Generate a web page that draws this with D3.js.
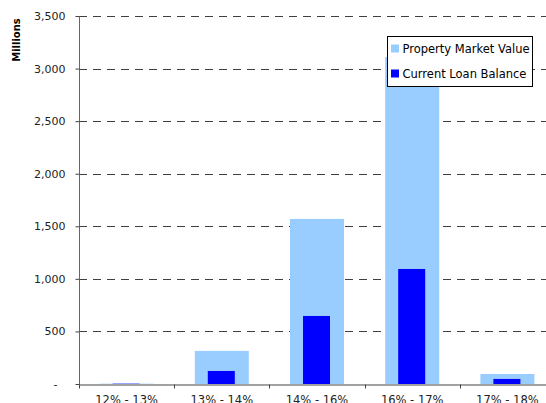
<!DOCTYPE html>
<html>
<head>
<meta charset="utf-8">
<script src="https://cdn.jsdelivr.net/npm/d3@7"></script>
<style>
  html, body { margin: 0; padding: 0; background: #fff; overflow: hidden; }
  svg { display: block; }
</style>
</head>
<body>
<script>
const categories = ["12% - 13%", "13% - 14%", "14% - 16%", "16% - 17%", "17% - 18%"];
const propertyValues = [3, 315, 1570, 3110, 95];
const loanValues = [3, 124, 647, 1094, 48];
const yTicks = [0, 500, 1000, 1500, 2000, 2500, 3000, 3500];
const seriesNames = ["Property Market Value", "Current Loan Balance"];
const colors = ["#99CCFF", "#0000FF"];

const W = 546, H = 403;
const svg = d3.select("body").append("svg").attr("width", W).attr("height", H);
const font = "DejaVu Sans, Verdana, sans-serif";

const x = d3.scaleBand().domain(categories).range([79, 555]).paddingInner(0).paddingOuter(0);
const y = d3.scaleLinear().domain([0, 3500]).range([384, 16]);

// gridlines
svg.append("g").selectAll("line").data(yTicks.filter(d => d > 0)).join("line")
  .attr("x1", 79).attr("x2", W).attr("y1", d => Math.round(y(d)) + 0.5).attr("y2", d => Math.round(y(d)) + 0.5)
  .attr("stroke", "#404040").attr("stroke-width", 1).attr("stroke-dasharray", "8,6");

// bars
const bw = x.bandwidth();
svg.append("g").selectAll("rect").data(propertyValues).join("rect")
  .attr("x", (d, i) => x(categories[i]) + bw / 2 - 27)
  .attr("width", 54)
  .attr("y", d => y(d)).attr("height", d => y(0) - y(d))
  .attr("fill", colors[0]);
svg.append("g").selectAll("rect").data(loanValues).join("rect")
  .attr("x", (d, i) => x(categories[i]) + bw / 2 - 14)
  .attr("width", 27)
  .attr("y", d => y(d)).attr("height", d => y(0) - y(d))
  .attr("fill", colors[1]);

// y axis
const yAxis = d3.axisLeft(y).tickValues(yTicks).tickSize(4).tickPadding(10)
  .tickFormat(d => d === 0 ? "-" : d3.format(",")(d));
const gy = svg.append("g").attr("transform", "translate(79.5,0)").call(yAxis);
gy.select(".domain").attr("stroke", "#666").attr("d", "M0," + y(3500) + "V" + (y(0) + 0.5));
gy.selectAll(".tick line").attr("stroke", "#444");
gy.selectAll(".tick text").attr("font-family", font).attr("font-size", 11).attr("fill", "#222");
gy.selectAll(".tick").filter(d => d === 0).select("text").attr("dx", -8);

// x axis
const xAxis = d3.axisBottom(x).tickSize(0).tickPadding(11);
const gx = svg.append("g").attr("transform", "translate(0," + (y(0) + 0.5) + ")").call(xAxis);
gx.select(".domain").attr("stroke", "#444");
gx.selectAll(".tick text").attr("font-family", font).attr("font-size", 11.5).attr("fill", "#222");
// category separator ticks
gx.append("g").selectAll("line").data(categories).join("line")
  .attr("x1", d => Math.round(x(d)) + 0.5).attr("x2", d => Math.round(x(d)) + 0.5)
  .attr("y1", 0).attr("y2", 4).attr("stroke", "#444");

// y axis title
svg.append("text").attr("transform", "translate(20,40) rotate(-90)")
  .attr("text-anchor", "middle").attr("font-family", font).attr("font-size", 10)
  .attr("font-weight", "bold").attr("fill", "#000").text("Millions");

// legend
const lg = svg.append("g").attr("transform", "translate(387.5,36.5)");
lg.append("rect").attr("width", 145).attr("height", 50).attr("fill", "#fff").attr("stroke", "#000").attr("stroke-width", 1);
seriesNames.forEach((name, i) => {
  lg.append("rect").attr("x", 3.5).attr("y", 8 + i * 25).attr("width", 8).attr("height", 8).attr("fill", colors[i]);
  lg.append("text").attr("x", 15).attr("y", 16 + i * 25).attr("font-family", font).attr("font-size", 11.5)
    .attr("fill", "#000").text(name);
});
</script>
</body>
</html>
